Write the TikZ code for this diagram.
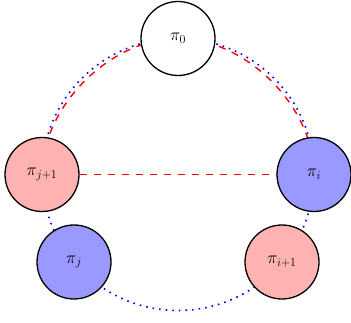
\documentclass[tikz,border=0pt]{standalone}
\usetikzlibrary{backgrounds}
\begin{document}
\begin{tikzpicture}[x=1pt,y=-1pt,
  pnode/.style={circle,draw=black,line width=1.3pt,minimum size=74pt,inner sep=0pt,font=\fontsize{18.5}{22}\selectfont},
  rednode/.style={pnode,fill=red!30},
  bluenode/.style={pnode,fill=blue!40},
  whitenode/.style={pnode,fill=white},
  bluedot/.style={blue,line width=1.6pt,dash pattern=on 1.6pt off 5pt},
  reddash/.style={red,line width=1.4pt,dash pattern=on 7pt off 7pt}]
\useasboundingbox (0,0) rectangle (351,323);
\coordinate (c) at (178,174.5);
\node[whitenode] (p0) at (178,38.5) {$\pi_0$};
\node[rednode] (pj1) at (42,174.5) {$\pi_{j+1}$};
\node[bluenode] (pi) at (314,174.5) {$\pi_i$};
\node[bluenode] (pj) at (74,262) {$\pi_j$};
\node[rednode] (pi1) at (282,262) {$\pi_{i+1}$};
\begin{scope}[on background layer]
\draw[bluedot] (c) circle[radius=136];
\draw[reddash] (pj1.center) to[out=90,in=180,looseness=0.9] (p0.center);
\draw[reddash] (p0.center) to[out=0,in=90,looseness=0.9] (pi.center);
\draw[reddash] (pj1) -- (pi);
\end{scope}
\end{tikzpicture}
\end{document}
